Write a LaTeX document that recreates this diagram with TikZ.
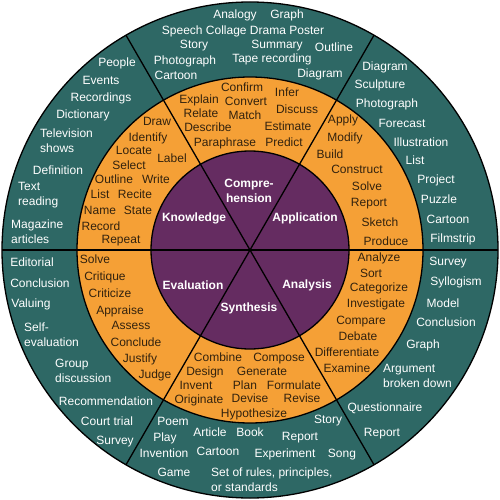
\documentclass[tikz,border=0pt]{standalone}
\usepackage{fontspec}
\setmainfont{Liberation Sans}
\definecolor{ringteal}{RGB}{46,104,101}
\definecolor{ringorange}{RGB}{245,160,54}
\definecolor{ringpurple}{RGB}{101,44,97}
\definecolor{darktext}{RGB}{50,34,14}
\tikzset{
  lbl/.style={inner sep=0pt, font=\fontsize{12}{15}\selectfont, text height=8.6pt, text depth=0pt},
  ml/.style={inner sep=0pt, font=\fontsize{12}{15}\selectfont, align=left, anchor=west},
  tw/.style={lbl, text=white},
  tml/.style={ml, text=white},
  od/.style={lbl, text=darktext},
  pw/.style={inner sep=0pt, font=\fontsize{12}{15}\selectfont\bfseries, text=white, align=center},
  divider/.style={draw=black, line width=1.3pt}
}
\begin{document}
\begin{tikzpicture}[x=1pt,y=-1pt]
\useasboundingbox (0,0) rectangle (500,500);
\coordinate (c) at (250,250);
\fill[ringteal] (c) circle[radius=248pt];
\fill[ringorange] (c) circle[radius=173pt];
\fill[ringpurple] (c) circle[radius=99pt];
\foreach \a in {0,60,...,300} {\draw[divider] (c) -- ++(\a:248pt);}
\draw[divider] (c) circle[radius=248pt];
\draw[divider] (c) circle[radius=173pt];
\draw[divider] (c) circle[radius=99pt];

% purple
\node[pw] (pcomp) at (249,191) {Compre-\\hension};
\node[pw] (pknow) at (194,218) {Knowledge};
\node[pw] (pappl) at (305,218) {Application};
\node[pw] (peval) at (193,285) {Evaluation};
\node[pw] (panal) at (307,285) {Analysis};
\node[pw] (psynt) at (249,308) {Synthesis};

% top teal (comprehension)
\node[tw] (ta1) at (235,14) {Analogy};
\node[tw] (ta2) at (287,14) {Graph};
\node[tw] (ta3) at (243,30) {Speech Collage Drama Poster};
\node[tw] (ta4) at (194,44) {Story};
\node[tw] (ta5) at (277,44) {Summary};
\node[tw] (ta6) at (272,58) {Tape recording};
\node[tw] (ta7) at (185,60) {Photograph};
\node[tw] (ta8) at (334,47) {Outline};
\node[tw] (ta9) at (176,75) {Cartoon};
\node[tw] (ta10) at (320,73) {Diagram};

% upper-left teal (knowledge)
\node[tw] (tk1) at (117,62) {People};
\node[tw] (tk2) at (101,80) {Events};
\node[tw] (tk3) at (101,97) {Recordings};
\node[tw] (tk4) at (83,114) {Dictionary};
\node[tml] (tk5) at (40,140.5) {Television\\shows};
\node[tw] (tk6) at (58,170) {Definition};
\node[tml] (tk7) at (18,195.5) {Text\\reading};
\node[tml] (tk8) at (11,231.5) {Magazine\\articles};

% upper-left orange (knowledge)
\node[od] (ok1) at (157,121) {Draw};
\node[od] (ok2) at (148,137) {Identify};
\node[od] (ok3) at (134,150) {Locate};
\node[od] (ok4) at (172,158) {Label};
\node[od] (ok5) at (129,165) {Select};
\node[od] (ok6) at (114,179) {Outline};
\node[od] (ok7) at (156,179) {Write};
\node[od] (ok8) at (100,194) {List};
\node[od] (ok9) at (135,194) {Recite};
\node[od] (ok10) at (100,210) {Name};
\node[od] (ok11) at (138,210) {State};
\node[od] (ok12) at (101,226) {Record};
\node[od] (ok13) at (121,239) {Repeat};

% top orange (comprehension)
\node[od] (oc1) at (242,87) {Confirm};
\node[od] (oc2) at (287,92) {Infer};
\node[od] (oc3) at (199,99) {Explain};
\node[od] (oc4) at (246,101) {Convert};
\node[od] (oc5) at (297,109) {Discuss};
\node[od] (oc6) at (201,113) {Relate};
\node[od] (oc7) at (245,115) {Match};
\node[od] (oc8) at (288,126) {Estimate};
\node[od] (oc9) at (208,127) {Describe};
\node[od] (oc10) at (225,142) {Paraphrase};
\node[od] (oc11) at (284,142) {Predict};

% upper-right orange (application)
\node[od] (op1) at (343,119) {Apply};
\node[od] (op2) at (345,137) {Modify};
\node[od] (op3) at (330,154) {Build};
\node[od] (op4) at (357,169) {Construct};
\node[od] (op5) at (367,186) {Solve};
\node[od] (op6) at (369,202) {Report};
\node[od] (op7) at (380,222) {Sketch};
\node[od] (op8) at (386,241) {Produce};

% upper-right teal (application)
\node[tw] (tp1) at (385,66) {Diagram};
\node[tw] (tp2) at (380,84) {Sculpture};
\node[tw] (tp3) at (387,103) {Photograph};
\node[tw] (tp4) at (402,123) {Forecast};
\node[tw] (tp5) at (421,142) {Illustration};
\node[tw] (tp6) at (415,160) {List};
\node[tw] (tp7) at (436,179) {Project};
\node[tw] (tp8) at (439,199) {Puzzle};
\node[tw] (tp9) at (448,219) {Cartoon};
\node[tw] (tp10) at (453,238) {Filmstrip};

% lower-left orange (evaluation)
\node[od] (oe1) at (95,259) {Solve};
\node[od] (oe2) at (105,276) {Critique};
\node[od] (oe3) at (110,293) {Criticize};
\node[od] (oe4) at (120,310) {Appraise};
\node[od] (oe5) at (131,325) {Assess};
\node[od] (oe6) at (136,342) {Conclude};
\node[od] (oe7) at (140,358) {Justify};
\node[od] (oe8) at (155,374) {Judge};

% lower-left teal (evaluation)
\node[tw] (te1) at (32,262) {Editorial};
\node[tw] (te2) at (40,283) {Conclusion};
\node[tw] (te3) at (31,303) {Valuing};
\node[tml] (te4) at (24,334.5) {Self-\\evaluation};
\node[tml] (te5) at (55,370.5) {Group\\discussion};
\node[tw] (te6) at (106,401) {Recommendation};
\node[tw] (te7) at (107,421) {Court trial};
\node[tw] (te8) at (115,440) {Survey};

% bottom orange (synthesis)
\node[od] (os1) at (218,357) {Combine};
\node[od] (os2) at (279,357) {Compose};
\node[od] (os3) at (205,371) {Design};
\node[od] (os4) at (262,371) {Generate};
\node[od] (os5) at (196,385) {Invent};
\node[od] (os6) at (245,385) {Plan};
\node[od] (os7) at (294,385) {Formulate};
\node[od] (os8) at (199,399) {Originate};
\node[od] (os9) at (250,398) {Devise};
\node[od] (os10) at (302,398) {Revise};
\node[od] (os11) at (254,413) {Hypothesize};

% bottom teal (synthesis)
\node[tw] (ts1) at (173,421) {Poem};
\node[tw] (ts2) at (165,437) {Play};
\node[tw] (ts3) at (210,432) {Article};
\node[tw] (ts4) at (250,432) {Book};
\node[tw] (ts5) at (164,453) {Invention};
\node[tw] (ts6) at (218,451) {Cartoon};
\node[tw] (ts7) at (174,472) {Game};
\node[tml] (ts8) at (211,479.5) {Set of rules, principles,\\or standards};
\node[tw] (ts9) at (328,419) {Story};
\node[tw] (ts10) at (300,436) {Report};
\node[tw] (ts11) at (285,453) {Experiment};
\node[tw] (ts12) at (342,453) {Song};

% lower-right orange (analysis)
\node[od] (on1) at (379,257) {Analyze};
\node[od] (on2) at (371,273) {Sort};
\node[od] (on3) at (379,287) {Categorize};
\node[od] (on4) at (376,303) {Investigate};
\node[od] (on5) at (361,320) {Compare};
\node[od] (on6) at (358,336) {Debate};
\node[od] (on7) at (347,352) {Differentiate};
\node[od] (on8) at (347,368) {Examine};

% lower-right teal (analysis)
\node[tw] (tn1) at (448,261) {Survey};
\node[tw] (tn2) at (456,281) {Syllogism};
\node[tw] (tn3) at (443,303) {Model};
\node[tw] (tn4) at (446,322) {Conclusion};
\node[tw] (tn5) at (423,344) {Graph};
\node[tml] (tn6) at (383,375.5) {Argument\\broken down};
\node[tw] (tn7) at (385,407) {Questionnaire};
\node[tw] (tn8) at (382,432) {Report};
\end{tikzpicture}
\end{document}
